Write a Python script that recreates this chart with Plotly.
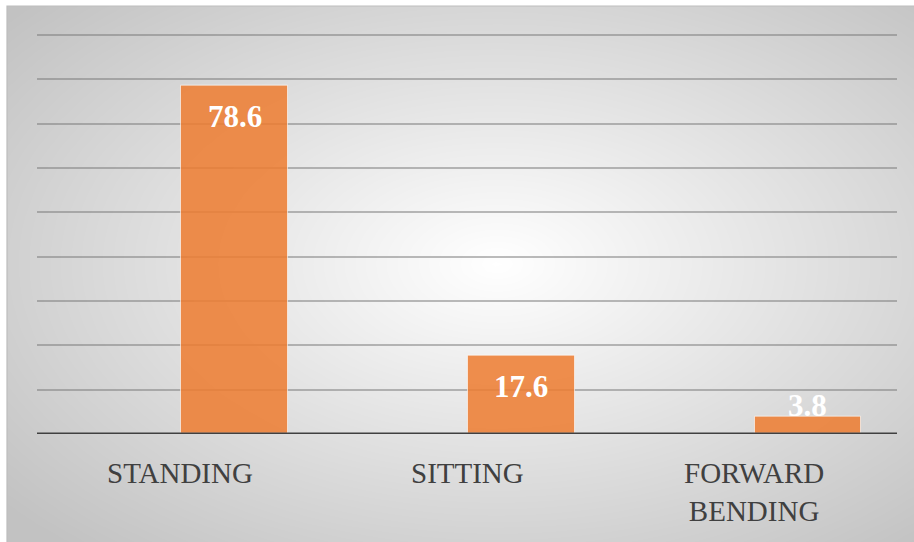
import numpy as np
import plotly.graph_objects as go

# Data
categories = ["STANDING", "SITTING", "FORWARD<br>BENDING"]
values = [78.6, 17.6, 3.8]
y_ticks = [0, 10, 20, 30, 40, 50, 60, 70, 80, 90]

W, H = 914, 542
# plot area in pixels
PX0, PX1 = 37, 897
PY_TOP, PY_BOT = 35, 434
Y_MAX = 90
PAD = 0.3  # headroom so the top gridline is drawn

bar_color = "rgba(237,125,49,0.86)"
serif = "Liberation Serif"
BAR_W, BAR_OFF = 0.373, 0.003

# Radial grey-to-white background for the chart area
nx, ny = 120, 80
gx = np.linspace(0, 1, nx)
gy = np.linspace(0, 1, ny)
X, Y = np.meshgrid(gx, gy)
cx, cy = 0.54, 0.52
d = np.sqrt(((X - cx) / 0.5) ** 2 + ((Y - cy) / 0.5) ** 2) / np.sqrt(2)
bg = np.clip(1 - d, 0, 1)

fig = go.Figure()
fig.add_trace(go.Heatmap(
    x=gx, y=gy, z=bg, zsmooth="best", showscale=False, hoverinfo="skip",
    colorscale=[[0, "rgb(194,194,194)"], [1, "rgb(255,255,255)"]],
    zmin=0, zmax=1, xaxis="x", yaxis="y",
))

fig.add_trace(go.Bar(
    x=categories, y=values, width=BAR_W, offset=BAR_OFF,
    marker=dict(color=bar_color, line=dict(color="rgba(255,255,255,0.6)", width=1)),
    xaxis="x2", yaxis="y2", hoverinfo="skip",
))

px_per_unit = (PY_BOT - PY_TOP) / Y_MAX
annotations = []
for i, (c, v) in enumerate(zip(categories, values)):
    # value label: inside near the top of tall bars, just above short ones
    tall = v * px_per_unit > 45
    annotations.append(dict(
        x=i + BAR_OFF + BAR_W / 2, y=v, xref="x2", yref="y2", text=f"<b>{v}</b>",
        showarrow=False, yanchor="middle", yshift=-31 if tall else 12,
        font=dict(family=serif, size=31, color="white"),
    ))
    # category label under the axis
    annotations.append(dict(
        x=i, y=0, xref="x2", yref="y2", text=c, showarrow=False,
        yanchor="top", yshift=-21, align="center",
        font=dict(family=serif, size=29, color="#404040"),
    ))

top_px = PY_TOP - PAD * px_per_unit
fig.update_layout(
    width=W, height=H, margin=dict(l=0, r=0, t=0, b=0),
    paper_bgcolor="white", plot_bgcolor="rgba(0,0,0,0)",
    showlegend=False, bargap=0,
    xaxis=dict(domain=[7 / W, 1], range=[0, 1], visible=False, fixedrange=True),
    yaxis=dict(domain=[0, 1 - 6 / H], range=[0, 1], visible=False, fixedrange=True),
    xaxis2=dict(
        domain=[PX0 / W, PX1 / W], anchor="y2", type="category",
        range=[-0.5, 2.5], showticklabels=False,
        showgrid=False, zeroline=False, showline=False, ticks="",
    ),
    yaxis2=dict(
        domain=[(H - PY_BOT) / H, (H - top_px) / H], anchor="x2",
        range=[0, Y_MAX + PAD], tickvals=y_ticks, showticklabels=False,
        showgrid=True, gridcolor="rgba(120,120,120,0.5)", gridwidth=1.5,
        zeroline=False, showline=False,
    ),
    annotations=annotations,
    shapes=[
        # category axis line
        dict(type="line", xref="paper", yref="y2", x0=PX0 / W, x1=PX1 / W,
             y0=0, y1=0, line=dict(color="#404040", width=3)),
        # chart area frame
        dict(type="rect", xref="paper", yref="paper", x0=7 / W, x1=1.01,
             y0=-0.01, y1=1 - 6 / H, line=dict(color="#bdbdbd", width=1.2)),
    ],
)

fig.write_html("out.html")
